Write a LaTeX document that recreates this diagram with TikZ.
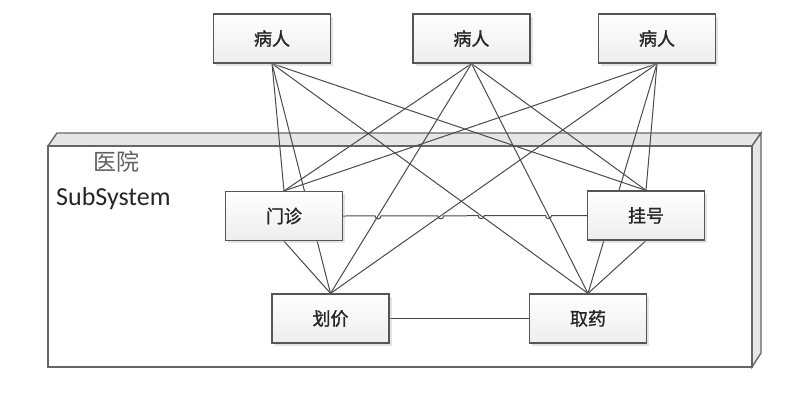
\documentclass[tikz,border=0pt]{standalone}
\usepackage{fontspec}
\newfontfamily\cjk{Noto Sans CJK SC}
\newfontfamily\cjkb[FakeBold=1.2]{Noto Sans CJK SC}
\newfontfamily\calfont{Carlito}
\usetikzlibrary{shadows,intersections}
\pgfdeclarelayer{sys}
\pgfdeclarelayer{edges}
\pgfsetlayers{sys,edges,main}
\definecolor{edgegray}{HTML}{4A4A4A}
\definecolor{boxborder}{HTML}{555555}
\definecolor{facegray}{HTML}{E6E6E6}
\tikzset{
  umlbox/.style={draw=boxborder, line width=1.2pt, rectangle, minimum width=117pt, minimum height=49pt, inner sep=0pt,
    top color=white, bottom color=gray!14,
    drop shadow={shadow xshift=2.5pt, shadow yshift=-2.5pt, fill=gray!60, opacity=0.35},
    font=\cjkb\fontsize{18}{20}\selectfont, text=black!85},
  conn/.style={draw=edgegray, line width=1pt},
  sysline/.style={draw=black!60, line width=1.4pt, line join=miter}
}
\begin{document}
\begin{tikzpicture}[x=1pt,y=-1pt]
\useasboundingbox (0,0) rectangle (800,405);
% system box
\begin{pgfonlayer}{sys}
\fill[white] (48,146) rectangle (752,367);
\filldraw[sysline, fill=facegray] (48,146) -- (57,133) -- (761,133) -- (752,146) -- cycle;
\filldraw[sysline, fill=facegray] (752,146) -- (761,133) -- (761,353) -- (752,367) -- cycle;
\draw[sysline] (48,146) rectangle (752,367);
\end{pgfonlayer}
\node[text=black!62, font=\cjk\fontsize{23}{25}\selectfont] (sysname) at (116,162) {医院};
\node[anchor=base west, inner sep=0pt, text=black!85, font=\calfont\fontsize{26}{28}\selectfont] (systype) at (56,205) {SubSystem};
% nodes
\node[umlbox] (p1) at (272,38.5) {病人};
\node[umlbox] (p2) at (471.5,38.5) {病人};
\node[umlbox] (p3) at (657,38.5) {病人};
\node[umlbox] (mz) at (284,216) {门诊};
\node[umlbox] (gh) at (646,215.5) {挂号};
\node[umlbox] (hj) at (330.5,318.5) {划价};
\node[umlbox] (qy) at (588,318.5) {取药};
% connectors
\begin{pgfonlayer}{edges}
\foreach \p in {p1,p2,p3}{
  \foreach \t in {mz,gh,hj,qy}{
    \draw[conn, name path global=\p\t] (\p.south) -- (\t.north);
  }
}
\path[name path=horiz] (mz.east) -- (gh.west);
\path[name intersections={of=horiz and p2hj, by=ia}];
\path[name intersections={of=horiz and p3hj, by=ib}];
\path[name intersections={of=horiz and p1qy, by=ic}];
\path[name intersections={of=horiz and p2qy, by=id}];
\draw[conn] (mz.east) -- ([xshift=-3pt]ia) arc[start angle=180, end angle=360, radius=3pt]
  -- ([xshift=-3pt]ib) arc[start angle=180, end angle=360, radius=3pt]
  -- ([xshift=-3pt]ic) arc[start angle=180, end angle=360, radius=3pt]
  -- ([xshift=-3pt]id) arc[start angle=180, end angle=360, radius=3pt]
  -- (gh.west);
\draw[conn] (hj.east) -- (qy.west);
\draw[conn] (mz.south) -- (hj.north);
\draw[conn] (gh.south) -- (qy.north);
\end{pgfonlayer}
\end{tikzpicture}
\end{document}
